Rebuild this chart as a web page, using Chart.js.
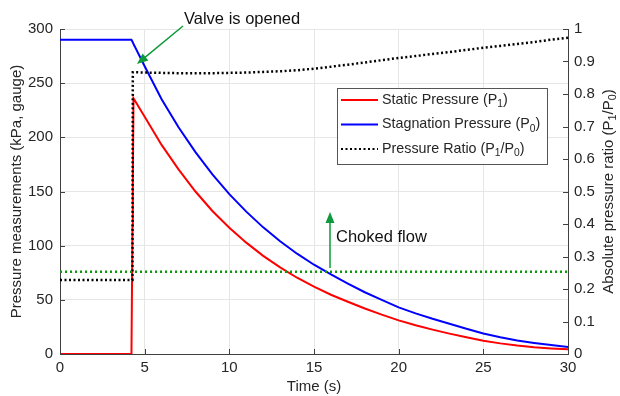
<!DOCTYPE html>
<html>
<head>
<meta charset="utf-8">
<script src="https://cdn.jsdelivr.net/npm/chart.js@4.4.1/dist/chart.umd.min.js"></script>
<style>
  html, body { margin: 0; padding: 0; background: #fff; }
  #wrap { width: 620px; height: 396px; }
</style>
</head>
<body>
<div id="wrap"><canvas id="pressureChart" width="620" height="396"></canvas></div>
<script>
// time samples (s)
const times = [0, 1, 2, 3, 4, 4.22, 4.28, 4.3, 4.34, 5, 6, 7, 8, 9, 10, 11, 12, 13, 14, 15,
  16, 17, 18, 19, 20, 21, 22, 23, 24, 25, 26, 27, 28, 29, 30];
// static pressure P1 (kPa, gauge)
const staticP = [0, 0, 0, 0, 0, 0, 118, 157, 236, 219, 193, 170.5, 150, 132, 116.6, 102.8, 90.6, 79.9, 70.4, 62.1,
  54.7, 48.2, 42, 36.3, 31, 26.5, 22.5, 18.8, 15.4, 12.3, 9.8, 7.8, 6.2, 5.1, 4.3];
// stagnation pressure P0 (kPa, gauge)
const stagnationP = [290, 290, 290, 290, 290, 290, 288.3, 287.6, 286.3, 265.6, 235.2, 209.3, 186.3, 165.8, 147.6, 131.4, 116.9, 104.1, 92.6, 82.4,
  73.4, 65, 57, 50, 43, 37.5, 32.5, 28, 23.3, 19, 15.4, 12.5, 10.2, 8.2, 6.5];
// absolute pressure ratio P1/P0
const ratio = [0.228, 0.228, 0.228, 0.228, 0.228, 0.228, 0.228, 0.867, 0.867, 0.866, 0.865, 0.864, 0.864, 0.864, 0.865, 0.866, 0.868, 0.870, 0.873, 0.878,
  0.884, 0.890, 0.897, 0.904, 0.911, 0.917, 0.923, 0.929, 0.936, 0.942, 0.948, 0.954, 0.960, 0.967, 0.973];
// choked flow threshold
const chokedRatio = 0.253;
const xTicks = [0, 5, 10, 15, 20, 25, 30];
const leftTicks = [0, 50, 100, 150, 200, 250, 300];

const legendItems = [
  { label: 'Static Pressure (P', sub: '1', tail: ')', color: '#ff0000', dash: [] },
  { label: 'Stagnation Pressure (P', sub: '0', tail: ')', color: '#0000ff', dash: [] },
  { label: 'Pressure Ratio (P', sub: '1', mid: '/P', sub2: '0', tail: ')', color: '#000000', dash: [2, 2.5] }
];

const FONT = '"Liberation Sans", Arial, sans-serif';
const TXT = '#262626';

function pts(ys) {
  return times.map((t, i) => ({ x: t, y: ys[i] }));
}

// draw a string with subscripts
function drawSubText(ctx, parts, x, y, size) {
  let cx = x;
  parts.forEach(p => {
    ctx.font = (p.sub ? size * 0.72 : size) + 'px ' + FONT;
    ctx.fillText(p.t, cx, p.sub ? y + size * 0.3 : y);
    cx += ctx.measureText(p.t).width;
  });
  return cx - x;
}
function measureSubText(ctx, parts, size) {
  let w = 0;
  parts.forEach(p => {
    ctx.font = (p.sub ? size * 0.72 : size) + 'px ' + FONT;
    w += ctx.measureText(p.t).width;
  });
  return w;
}

function arrow(ctx, x1, y1, x2, y2, color) {
  const ang = Math.atan2(y2 - y1, x2 - x1);
  const hl = 11, hw = 4.5;
  ctx.save();
  ctx.strokeStyle = color;
  ctx.fillStyle = color;
  ctx.lineWidth = 1.5;
  ctx.beginPath();
  ctx.moveTo(x1, y1);
  ctx.lineTo(x2 - Math.cos(ang) * hl * 0.8, y2 - Math.sin(ang) * hl * 0.8);
  ctx.stroke();
  ctx.beginPath();
  ctx.moveTo(x2, y2);
  ctx.lineTo(x2 - Math.cos(ang) * hl - Math.sin(ang) * hw, y2 - Math.sin(ang) * hl + Math.cos(ang) * hw);
  ctx.lineTo(x2 - Math.cos(ang) * hl + Math.sin(ang) * hw, y2 - Math.sin(ang) * hl - Math.cos(ang) * hw);
  ctx.closePath();
  ctx.fill();
  ctx.restore();
}

const extras = {
  id: 'extras',
  afterDraw(chart) {
    const ctx = chart.ctx;
    const xs = chart.scales.x, yl = chart.scales.y, yr = chart.scales.y1;
    const area = chart.chartArea;

    // inward tick marks (matlab style)
    ctx.save();
    ctx.strokeStyle = '#404040';
    ctx.lineWidth = 1;
    ctx.beginPath();
    xTicks.forEach(v => {
      const px = Math.round(xs.getPixelForValue(v)) + 0.5;
      ctx.moveTo(px, area.bottom);
      ctx.lineTo(px, area.bottom - 5);
    });
    leftTicks.forEach(v => {
      const py = Math.round(yl.getPixelForValue(v)) + 0.5;
      ctx.moveTo(area.left, py);
      ctx.lineTo(area.left + 5, py);
    });
    for (let i = 0; i <= 10; i++) {
      const py = Math.round(yr.getPixelForValue(i / 10)) + 0.5;
      ctx.moveTo(area.right, py);
      ctx.lineTo(area.right - 5, py);
    }
    ctx.stroke();
    ctx.restore();

    // right axis title with subscripts
    ctx.save();
    ctx.fillStyle = TXT;
    ctx.textBaseline = 'middle';
    const rParts = [{ t: 'Absolute pressure ratio (P' }, { t: '1', sub: true }, { t: '/P' }, { t: '0', sub: true }, { t: ')' }];
    const rw = measureSubText(ctx, rParts, 15);
    ctx.translate(609, (area.top + area.bottom) / 2);
    ctx.rotate(-Math.PI / 2);
    drawSubText(ctx, rParts, -rw / 2, 0, 15);
    ctx.restore();

    // legend box
    const bx = 337, by = 88, bw = 210, bh = 76;
    ctx.save();
    ctx.fillStyle = '#ffffff';
    ctx.fillRect(bx, by, bw, bh);
    ctx.strokeStyle = '#555555';
    ctx.lineWidth = 1;
    ctx.strokeRect(bx + 0.5, by + 0.5, bw, bh);
    legendItems.forEach((it, i) => {
      const cy = by + 12 + i * 24.5;
      ctx.strokeStyle = it.color;
      ctx.lineWidth = 2;
      ctx.setLineDash(it.dash);
      ctx.beginPath();
      ctx.moveTo(341, cy);
      ctx.lineTo(378, cy);
      ctx.stroke();
      ctx.setLineDash([]);
      ctx.fillStyle = TXT;
      ctx.textBaseline = 'middle';
      const parts = [{ t: it.label }, { t: it.sub, sub: true }];
      if (it.mid) parts.push({ t: it.mid }, { t: it.sub2, sub: true });
      parts.push({ t: it.tail });
      drawSubText(ctx, parts, 382, cy, 14.3);
    });
    ctx.restore();

    // annotations
    const green = '#0e9a3a';
    ctx.save();
    ctx.fillStyle = '#111111';
    ctx.textBaseline = 'alphabetic';
    ctx.font = '16.5px ' + FONT;
    ctx.fillText('Valve is opened', 184, 24);
    ctx.fillText('Choked flow', 336, 242);
    ctx.restore();
    arrow(ctx, 183, 26, 137, 64, green);
    arrow(ctx, 330, 268, 330, 212, green);
  }
};

const ctx = document.getElementById('pressureChart').getContext('2d');
const pressureChart = new Chart(ctx, {
  type: 'line',
  data: {
    datasets: [
      {
        label: 'Choked flow',
        data: [{ x: 0, y: chokedRatio }, { x: 30, y: chokedRatio }],
        yAxisID: 'y1',
        borderColor: '#0a9a0a',
        borderWidth: 2.5,
        borderDash: [2, 3],
        pointRadius: 0,
        fill: false
      },
      {
        label: 'Pressure Ratio (P1/P0)',
        data: pts(ratio),
        yAxisID: 'y1',
        borderColor: '#000000',
        borderWidth: 2.5,
        borderDash: [2, 2.5],
        pointRadius: 0,
        fill: false
      },
      {
        label: 'Stagnation Pressure (P0)',
        data: pts(stagnationP),
        yAxisID: 'y',
        borderColor: '#0000ff',
        borderWidth: 2,
        pointRadius: 0,
        tension: 0,
        fill: false
      },
      {
        label: 'Static Pressure (P1)',
        data: pts(staticP),
        yAxisID: 'y',
        borderColor: '#ff0000',
        borderWidth: 2,
        pointRadius: 0,
        tension: 0,
        fill: false
      }
    ]
  },
  options: {
    responsive: false,
    animation: false,
    layout: { padding: { top: 29, left: 0, right: 0, bottom: 0 } },
    plugins: {
      legend: { display: false },
      tooltip: { enabled: false }
    },
    scales: {
      x: {
        type: 'linear',
        min: 0,
        max: 30,
        ticks: { stepSize: 5, color: TXT, font: { family: FONT, size: 15 }, padding: 5, maxRotation: 0 },
        grid: { color: '#e6e6e6', drawTicks: false },
        border: { color: '#404040' },
        title: { display: true, text: 'Time (s)', color: TXT, font: { family: FONT, size: 15 }, padding: { top: 0, bottom: 0 } },
        afterFit(scale) { scale.height = 42; }
      },
      y: {
        position: 'left',
        min: 0,
        max: 300,
        ticks: { stepSize: 50, color: TXT, font: { family: FONT, size: 15 }, padding: 7 },
        grid: { color: '#e6e6e6', drawTicks: false },
        border: { color: '#404040' },
        title: { display: true, text: 'Pressure measurements (kPa, gauge)', color: TXT, font: { family: FONT, size: 15 }, padding: { top: 8, bottom: 0 } },
        afterFit(scale) { scale.width = 60; }
      },
      y1: {
        position: 'right',
        min: 0,
        max: 1,
        ticks: {
          stepSize: 0.1,
          color: TXT,
          font: { family: FONT, size: 15 },
          padding: 6,
          callback: v => String(Math.round(v * 10) / 10)
        },
        grid: { drawOnChartArea: false, drawTicks: false },
        border: { color: '#404040' },
        afterFit(scale) { scale.width = 52; }
      }
    }
  },
  plugins: [extras]
});
</script>
</body>
</html>
